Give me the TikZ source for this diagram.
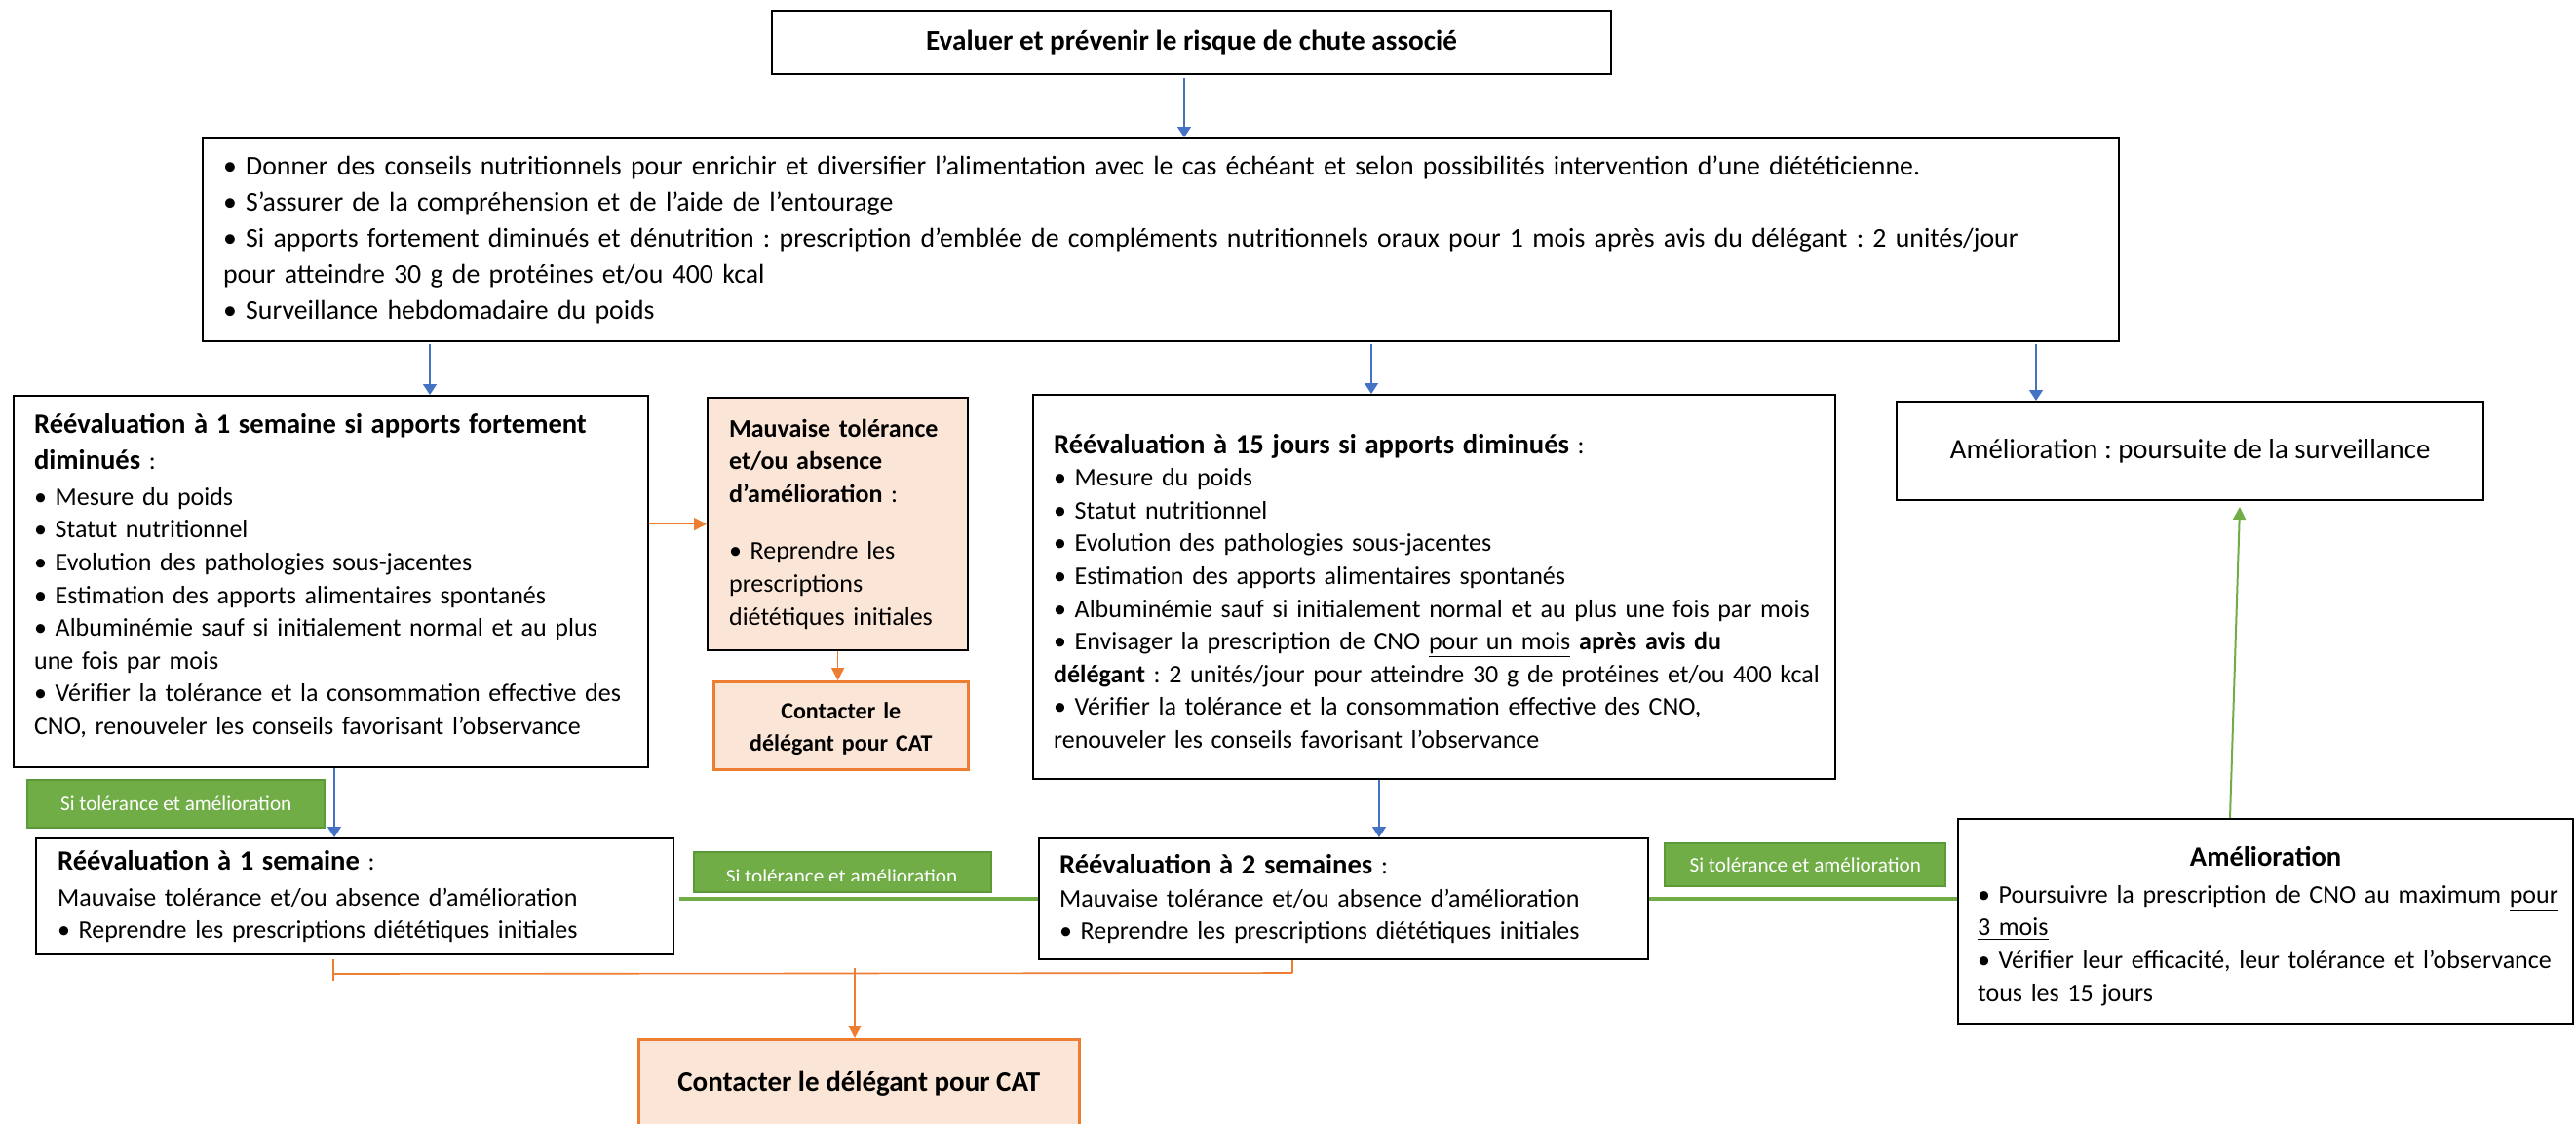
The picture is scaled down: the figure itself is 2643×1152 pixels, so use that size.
\documentclass[tikz,border=0pt]{standalone}
\usepackage{fontspec}
\setmainfont{Carlito}
\usetikzlibrary{arrows.meta,calc}
\frenchspacing

\definecolor{flowblue}{HTML}{4472C4}
\definecolor{floworange}{HTML}{ED7D31}
\definecolor{flowgreen}{HTML}{70AD47}
\definecolor{flowgreendark}{HTML}{5A9A37}
\definecolor{flowpeach}{HTML}{FBE5D6}

% text sizes
\newcommand\flowbody{\fontsize{13.0}{16.8}\selectfont}
\newcommand\flowhead{\fontsize{14.3}{16.8}\selectfont\bfseries}
\newcommand\flowbig{\fontsize{13.9}{18.5}\selectfont}
\newcommand\flowlabel{\fontsize{10.6}{12}\selectfont}
% lets a line run slightly into the right margin instead of wrapping
\newcommand\flowroom{\rightskip=-14pt plus 1fil\relax}
% extra room above a first line (pushes a centred text block down by half of it)
\newcommand\flowlift[1]{\rule{0pt}{\dimexpr\fontcharht\font`l+#1\relax}%
  \rule{0pt}{\dimexpr\fontcharht\font`é+#1\relax}}

\tikzset{
  box/.style={rectangle, draw=black, line width=1.1pt, anchor=north west,
    inner ysep=0pt, align=left, font=\flowbody},
  cbox/.style={box, align=center, inner xsep=0pt},
  warnbox/.style={box, fill=flowpeach},
  callbox/.style={cbox, draw=floworange, line width=1.3pt, fill=flowpeach},
  glabel/.style={rectangle, draw=flowgreendark, fill=flowgreen, line width=1.2pt,
    anchor=north west, inner sep=0pt, text=white, font=\flowlabel},
  barrow/.style={draw=flowblue, line width=0.7pt, -{Triangle[length=5.5pt,width=7pt]}},
  oline/.style={draw=floworange, line width=0.8pt},
  oarrow/.style={oline, -{Triangle[length=6.5pt,width=6.5pt]}},
  gline/.style={draw=flowgreen, line width=2.3pt},
  garrow/.style={draw=flowgreen, line width=1pt, -{Triangle[length=6.5pt,width=6.5pt]}},
}

\begin{document}
\begin{tikzpicture}[x=0.5pt,y=-0.5pt]
\useasboundingbox (0,0) rectangle (2643,1152);
\clip (0,0) rectangle (2643,1152);

% ---- boxes ----
\node[cbox, minimum width=430.5pt, minimum height=32.5pt, font=\fontsize{14.6}{17}\selectfont\bfseries]
  (top) at (791,10) {Evaluer et prévenir le risque de chute associé};

\node[box, minimum width=983pt, minimum height=104pt, text width=962pt, inner xsep=10.5pt,
  font=\flowbig] (big) at (207,141)
  {\flowroom
   • Donner des conseils nutritionnels pour enrichir et diversifier l’alimentation avec le cas échéant et selon possibilités intervention d’une diététicienne.\\
   • S’assurer de la compréhension et de l’aide de l’entourage\\
   • Si apports fortement diminués et dénutrition : prescription d’emblée de compléments nutritionnels oraux pour 1 mois après avis du délégant : 2 unités/jour\\
   pour atteindre 30 g de protéines et/ou 400 kcal\\
   • Surveillance hebdomadaire du poids};

\node[box, minimum width=325.5pt, minimum height=190.5pt, text width=304.5pt, inner xsep=10.5pt]
  (r1) at (13,405)
  {\flowroom
   {\flowhead Réévaluation à 1 semaine si apports fortement}\\[1.6pt]
   {\flowhead diminués} :\\[1.6pt]
   • Mesure du poids\\
   • Statut nutritionnel\\
   • Evolution des pathologies sous-jacentes\\
   • Estimation des apports alimentaires spontanés\\
   • Albuminémie sauf si initialement normal et au plus\\
   une fois par mois\\
   • Vérifier la tolérance et la consommation effective des\\
   CNO, renouveler les conseils favorisant l’observance\rule[-7.5pt]{0pt}{0pt}};

\node[warnbox, minimum width=133.5pt, minimum height=129.5pt, text width=111.5pt, inner xsep=11pt]
  (mauv) at (725,407)
  {\flowroom
   {\bfseries Mauvaise tolérance}\\
   {\bfseries et/ou absence}\\
   {\bfseries d’amélioration} :\\[12.5pt]
   • Reprendre les\\
   prescriptions\\
   diététiques initiales};

\node[callbox, minimum width=130.5pt, minimum height=45pt, text width=130.5pt,
  font=\fontsize{12}{16.8}\selectfont\bfseries]
  (cont1) at (731,698) {\flowlift{3.4pt}Contacter le\\délégant pour CAT};

\node[box, minimum width=411.5pt, minimum height=197pt, text width=390.5pt, inner xsep=10.5pt]
  (r15) at (1059,404)
  {\flowroom
   {\flowhead\flowlift{4.2pt}Réévaluation à 15 jours si apports diminués} :\\
   • Mesure du poids\\
   • Statut nutritionnel\\
   • Evolution des pathologies sous-jacentes\\
   • Estimation des apports alimentaires spontanés\\
   • Albuminémie sauf si initialement normal et au plus une fois par mois\\
   • Envisager la prescription de CNO \underline{pour un mois} \textbf{après avis du}\\
   \textbf{délégant} : 2 unités/jour pour atteindre 30 g de protéines et/ou 400 kcal\\
   • Vérifier la tolérance et la consommation effective des CNO,\\
   renouveler les conseils favorisant l’observance};

\node[cbox, minimum width=301pt, minimum height=50.5pt, font=\fontsize{14.4}{17}\selectfont]
  (amel1) at (1945,411) {Amélioration : poursuite de la surveillance};

\node[box, minimum width=327pt, minimum height=59.5pt, text width=305pt, inner xsep=11pt]
  (r1s) at (36,859)
  {\flowroom
   {\flowhead Réévaluation à 1 semaine} :\\[1.5pt]
   Mauvaise tolérance et/ou absence d’amélioration\\
   • Reprendre les prescriptions diététiques initiales};

\node[box, minimum width=312.5pt, minimum height=62pt, text width=291.5pt, inner xsep=10.5pt]
  (r2s) at (1065,859)
  {\flowroom
   {\flowhead Réévaluation à 2 semaines} :\\
   Mauvaise tolérance et/ou absence d’amélioration\\
   • Reprendre les prescriptions diététiques initiales};

\node[box, minimum width=315.5pt, minimum height=105pt, text width=295.5pt, inner xsep=10pt]
  (amel2) at (2008,839)
  {\flowroom
   \makebox[295.5pt]{\flowhead\flowlift{5pt}Amélioration}\\[2pt]
   • Poursuivre la prescription de CNO au maximum \underline{pour}\\
   \underline{3 mois}\\
   • Vérifier leur efficacité, leur tolérance et l’observance\\
   tous les 15 jours};

\node[callbox, minimum width=226pt, minimum height=45pt, font=\fontsize{14.5}{17}\selectfont\bfseries]
  (cont2) at (654,1065) {Contacter le délégant pour CAT};

% ---- green condition labels ----
\node[glabel, minimum width=152.5pt, minimum height=24.5pt] (g1) at (27,799)
  {Si tolérance et amélioration};
\node[glabel, minimum width=152.5pt, minimum height=20.5pt] (g2) at (711,873) {};
\begin{scope}
  \clip (713,875) rectangle (1014,903);
  \node[font=\flowlabel, text=white, anchor=base, inner sep=0pt] (g2t) at (863.5,906)
    {Si tolérance et amélioration};
\end{scope}
\node[glabel, minimum width=144pt, minimum height=22pt] (g3) at (1707,864)
  {Si tolérance et amélioration};

% ---- blue flow arrows ----
\coordinate (xa) at (441,0);
\coordinate (xb) at (1407,0);
\coordinate (xc) at (2089,0);
\coordinate (xd) at (343,0);
\coordinate (xe) at (1415,0);
\coordinate (xt) at (1215,0);
\draw[barrow] ([yshift=-1.5pt]top.south -| xt) -- (big.north -| xt);
\draw[barrow] ([yshift=-1pt]big.south -| xa) -- (r1.north -| xa);
\draw[barrow] ([yshift=-1pt]big.south -| xb) -- (r15.north -| xb);
\draw[barrow] ([yshift=-1pt]big.south -| xc) -- (amel1.north -| xc);
\draw[barrow] (r1.south -| xd) -- (r1s.north -| xd);
\draw[barrow] (r15.south -| xe) -- (r2s.north -| xe);

% ---- orange escalation ----
\draw[oarrow] (r1.east |- mauv.west) -- (mauv.west);
\draw[oarrow] (mauv.south) -- (mauv.south |- cont1.north);

\coordinate (jl) at (342,999);
\coordinate (jr) at (1326,998);
\coordinate (jm) at (877,993);
\draw[oline] ([yshift=-2pt]r1s.south -| jl) -- ([yshift=-3.5pt]jl);
\draw[oline] (r2s.south -| jr) -- (jr);
\draw[oline] (jl) -- (jr);
\draw[oarrow] (jm) -- (cont2.north -| jm);

% ---- green improvement path ----
\draw[gline] ([xshift=2.5pt]r1s.east |- r2s.west) -- (r2s.west);
\draw[gline] (r2s.east) -- (r2s.east -| amel2.west);
\coordinate (ga) at (2288,0);
\coordinate (gb) at (2298,520);
\draw[garrow] (amel2.north -| ga) -- (gb);
\end{tikzpicture}
\end{document}
